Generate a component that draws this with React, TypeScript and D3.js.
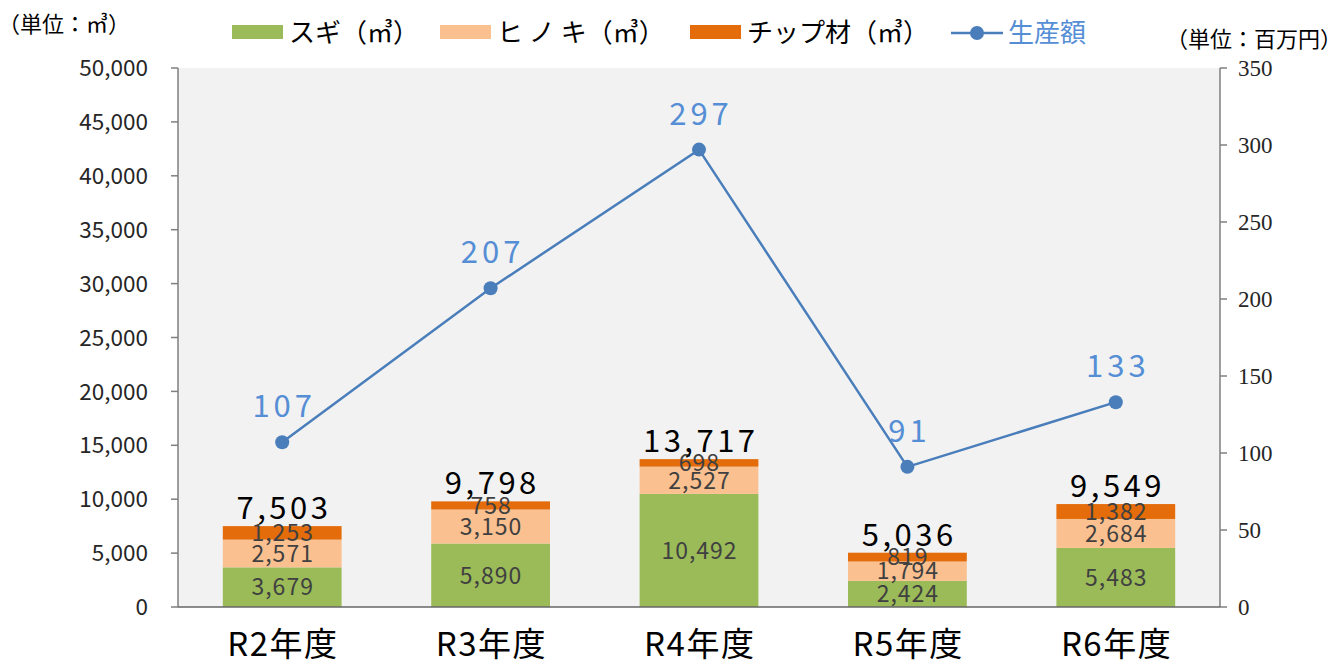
import React from "react";
import * as d3 from "d3";

const categories = ["R2年度", "R3年度", "R4年度", "R5年度", "R6年度"];
const sugi = [3679, 5890, 10492, 2424, 5483];
const hinoki = [2571, 3150, 2527, 1794, 2684];
const chip = [1253, 758, 698, 819, 1382];
const totals = [7503, 9798, 13717, 5036, 9549];
const production = [107, 207, 297, 91, 133];
const leftTicks = [0, 5000, 10000, 15000, 20000, 25000, 30000, 35000, 40000, 45000, 50000];
const rightTicks = [0, 50, 100, 150, 200, 250, 300, 350];
const seriesNames = ["スギ（㎥）", "ヒ ノ キ（㎥）", "チップ材（㎥）"];
const lineName = "生産額";

const W = 1332, H = 663;
const left = 178, right = 1220, top = 68, bottom = 607;
const colors = ["#9bbb59", "#fac090", "#e46c0a"];
const lineColor = "#4a7ebb";
const labelBlue = "#558ed5";
const sans = "'Noto Sans CJK JP', 'Noto Sans', sans-serif";
const serif = "'Liberation Serif', 'DejaVu Serif', serif";

export default function App() {
  const x = d3.scaleBand<string>().domain(categories).range([left, right]).paddingInner(0.43).paddingOuter(0.215);
  const y = d3.scaleLinear().domain([0, 50000]).range([bottom, top]);
  const y2 = d3.scaleLinear().domain([0, 350]).range([bottom, top]);
  const fmt = d3.format(",");

  const rows = categories.map((c, i) => ({ c, sugi: sugi[i], hinoki: hinoki[i], chip: chip[i] }));
  const stack = d3.stack<any>().keys(["sugi", "hinoki", "chip"])(rows);
  const cx = (c: string) => (x(c) as number) + x.bandwidth() / 2;
  const line = d3.line<number>().x((_, i) => cx(categories[i])).y((d) => y2(d));

  return (
    <svg width={W} height={H} style={{ position: "absolute", left: 0, top: 0, background: "#fff" }}>
      <rect x={left} y={top} width={right - left} height={bottom - top} fill="#f2f2f2" />
      {/* bars */}
      {stack.map((s, si) => (
        <g key={si}>
          {s.map((d, i) => (
            <rect key={i} x={x(categories[i])} y={y(d[1])} width={x.bandwidth()} height={y(d[0]) - y(d[1])} fill={colors[si]} />
          ))}
        </g>
      ))}
      {stack.map((s, si) => (
        <g key={"l" + si}>
          {s.map((d, i) => (
            <text key={i} x={cx(categories[i]) + 0.5} y={(y(d[0]) + y(d[1])) / 2} dy="0.36em" textAnchor="middle" fontFamily={sans} fontSize={23} letterSpacing={1} fill="#404040">
              {fmt(d[1] - d[0])}
            </text>
          ))}
        </g>
      ))}
      {categories.map((c, i) => (
        <text key={c} x={cx(c) + 1.75} y={y(sugi[i] + hinoki[i] + chip[i]) - 7} textAnchor="middle" fontFamily={sans} fontSize={31} letterSpacing={3.5} fill="#000">
          {fmt(totals[i])}
        </text>
      ))}
      {/* axes */}
      <line x1={left} x2={left} y1={top} y2={bottom} stroke="#7f7f7f" strokeWidth={1.5} />
      <line x1={right} x2={right} y1={top} y2={bottom} stroke="#7f7f7f" strokeWidth={1.5} />
      <line x1={left} x2={right} y1={bottom} y2={bottom} stroke="#666" strokeWidth={1.5} />
      {leftTicks.map((t) => (
        <g key={t}>
          <line x1={left - 7} x2={left} y1={y(t)} y2={y(t)} stroke="#7f7f7f" strokeWidth={1.5} />
          <text x={148} y={y(t)} dy="0.36em" textAnchor="end" fontFamily={sans} fontSize={22.5} fill="#262626">{fmt(t)}</text>
        </g>
      ))}
      {rightTicks.map((t) => (
        <g key={t}>
          <line x1={right} x2={right + 7} y1={y2(t)} y2={y2(t)} stroke="#7f7f7f" strokeWidth={1.5} />
          <text x={1238} y={y2(t)} dy="0.36em" textAnchor="start" fontFamily={serif} fontSize={23} fill="#262626">{t}</text>
        </g>
      ))}
      {categories.map((c) => (
        <text key={c} x={cx(c) + 0.75} y={656} textAnchor="middle" fontFamily={sans} fontSize={33} letterSpacing={1.5} fill="#000">{c}</text>
      ))}
      {/* line */}
      <path d={line(production) as string} fill="none" stroke={lineColor} strokeWidth={2.5} />
      {production.map((v, i) => (
        <g key={i}>
          <circle cx={cx(categories[i])} cy={y2(v)} r={7} fill={lineColor} />
          <text x={cx(categories[i]) + 2} y={y2(v) - 25} textAnchor="middle" fontFamily={sans} fontSize={31} letterSpacing={4} fill={labelBlue}>{v}</text>
        </g>
      ))}
      {/* units */}
      <text x={-2} y={32} fontFamily={sans} fontSize={22} fill="#000">（単位：㎥）</text>
      <text x={1342} y={47} textAnchor="end" fontFamily={sans} fontSize={22} fill="#000">（単位：百万円）</text>
      {/* legend */}
      {seriesNames.map((n, i) => {
        const lx = [232, 440, 690][i];
        return (
          <g key={n}>
            <rect x={lx} y={25} width={51} height={14} fill={colors[i]} />
            <text x={lx + 57} y={42} fontFamily={sans} fontSize={26} fill="#000">{n}</text>
          </g>
        );
      })}
      <line x1={951} x2={1003} y1={33} y2={33} stroke={lineColor} strokeWidth={2.5} />
      <circle cx={977} cy={33} r={7} fill={lineColor} />
      <text x={1008} y={42} fontFamily={sans} fontSize={26} fill={labelBlue}>{lineName}</text>
    </svg>
  );
}
